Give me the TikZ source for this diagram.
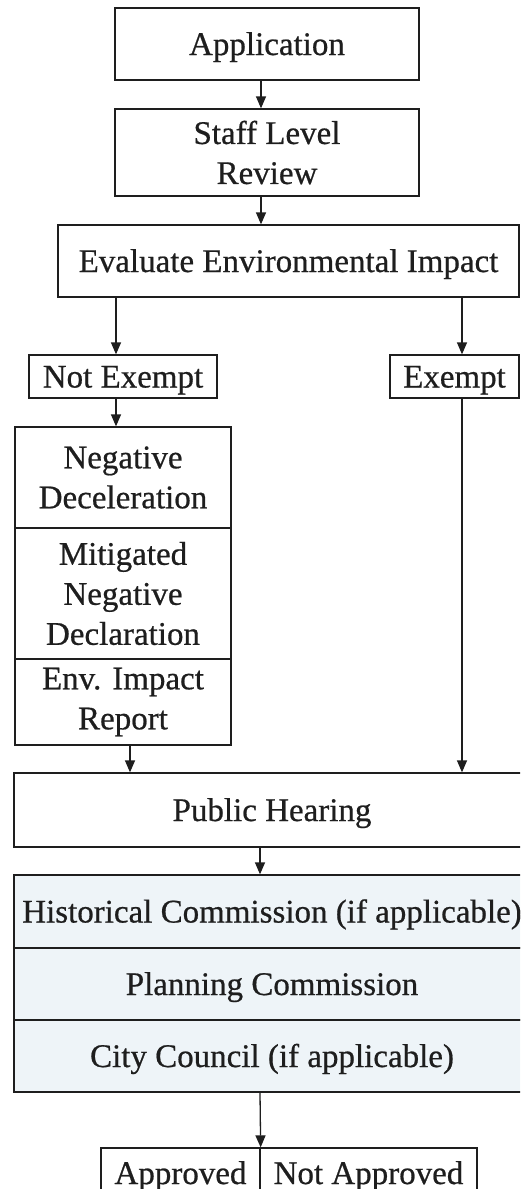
\documentclass[tikz,border=0pt]{standalone}
\usepackage{fontspec}
\setmainfont{Liberation Serif}[FakeBold=0.6]
\usetikzlibrary{arrows.meta}
\definecolor{commfill}{HTML}{EEF4F8}
\definecolor{ink}{HTML}{1E1E1E}
\begin{document}
\begin{tikzpicture}[x=1pt,y=-1pt,
  box/.style={draw=ink, line width=1.3pt, rectangle, inner sep=0pt, align=center,
              font=\fontsize{33}{40}\selectfont, text=ink},
  one/.style={text height=22pt, text depth=0pt},
  commbox/.style={box, one, fill=commfill},
  arr/.style={draw=ink, line width=1.3pt, -{Triangle[width=10pt,length=12pt]}}]
\useasboundingbox (0,0) rectangle (520,1189);
\clip (0,0) rectangle (520,1189);
\fill[white] (0,0) rectangle (520,1189);

\node[box, one, minimum width=304, minimum height=72] (app) at (267,44) {Application};
\node[box, minimum width=304, minimum height=87] (staff) at (267,152.5) {Staff Level\\Review};
\node[box, one, minimum width=461, minimum height=72] (eval) at (288.5,261) {Evaluate Environmental Impact};
\node[box, one, minimum width=188, minimum height=43] (notex) at (123,376.5) {Not Exempt};
\node[box, one, minimum width=129, minimum height=43] (ex) at (454.5,376.5) {Exempt};
\node[box, minimum width=216, minimum height=101] (neg) at (123,477.5) {Negative\\Deceleration};
\node[box, minimum width=216, minimum height=131] (mit) at (123,593.5) {Mitigated\\Negative\\Declaration};
\node[box, minimum width=216, minimum height=86] (eir) at (123,702) {Env. Impact\\Report};
\node[box, one, minimum width=516, minimum height=74] (ph) at (272,810) {Public Hearing};
\node[commbox, minimum width=516, minimum height=73] (hist) at (272,911.5) {Historical Commission (if applicable)};
\node[commbox, minimum width=516, minimum height=72] (plan) at (272,984) {Planning Commission};
\node[commbox, minimum width=516, minimum height=72] (city) at (272,1056) {City Council (if applicable)};
\node[box, one, minimum width=159, minimum height=50] (appr) at (180.5,1173) {Approved};
\node[box, one, minimum width=217, minimum height=50] (notappr) at (368.5,1173) {Not Approved};

\coordinate (xa) at (261,0);
\coordinate (xl) at (116,0);
\coordinate (xr) at (462,0);
\coordinate (xs) at (130,0);
\coordinate (xc) at (260,0);

\draw[arr] (app.south -| xa) -- (staff.north -| xa);
\draw[arr] (staff.south -| xa) -- (eval.north -| xa);
\draw[arr] (eval.south -| xl) -- (notex.north -| xl);
\draw[arr] (eval.south -| xr) -- (ex.north -| xr);
\draw[arr] (notex.south -| xl) -- (neg.north -| xl);
\draw[arr] (eir.south -| xs) -- (ph.north -| xs);
\draw[arr] (ex.south -| xr) -- (ph.north -| xr);
\draw[arr] (ph.south -| xc) -- (hist.north -| xc);
\draw[arr] (city.south -| xc) -- (appr.north east);
\end{tikzpicture}
\end{document}
